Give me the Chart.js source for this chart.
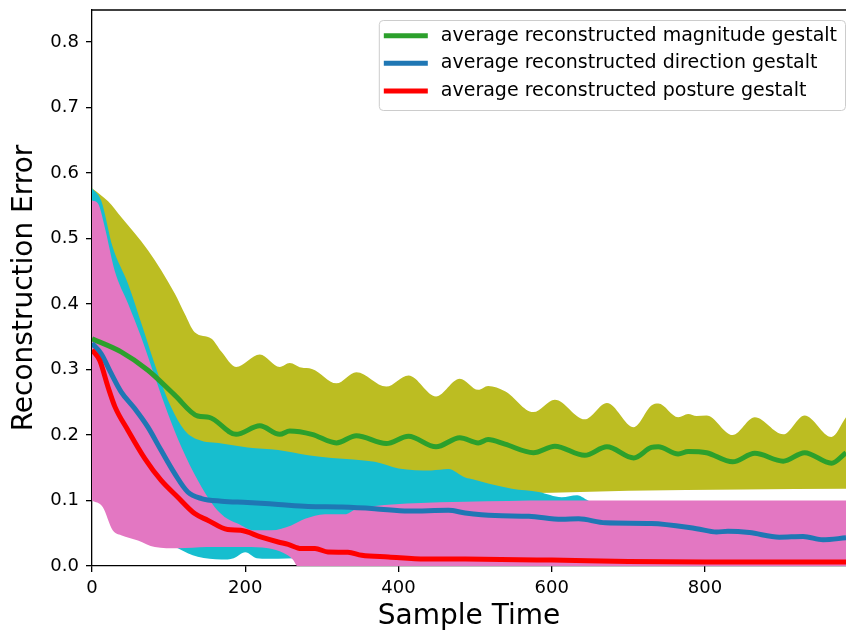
<!DOCTYPE html>
<html>
<head>
<meta charset="utf-8">
<script src="https://cdn.jsdelivr.net/npm/chart.js@4.4.1/dist/chart.umd.min.js"></script>
<style>
  html, body { margin: 0; padding: 0; background: #fff; }
  #chart { display: block; }
</style>
</head>
<body>
<canvas id="chart" width="846" height="634"></canvas>
<script>
// sample times and reconstruction errors, one x/y pair of arrays per curve
const magUpperX = [0, 21, 38, 73, 108, 121, 134, 156, 169, 188, 219, 245, 258, 273, 287, 319, 345, 384, 413, 449, 480, 504, 517, 539, 576, 604, 643, 672, 707, 730, 739, 765, 778, 789, 802, 836, 865, 902, 930, 965, 984];
const magUpperY = [0.577, 0.557, 0.533, 0.482, 0.416, 0.385, 0.357, 0.347, 0.327, 0.304, 0.323, 0.304, 0.310, 0.303, 0.301, 0.279, 0.296, 0.274, 0.291, 0.259, 0.286, 0.269, 0.275, 0.267, 0.235, 0.254, 0.224, 0.249, 0.212, 0.245, 0.248, 0.227, 0.232, 0.229, 0.230, 0.200, 0.227, 0.201, 0.230, 0.197, 0.227];
const magMeanX = [0, 38, 73, 108, 138, 153, 188, 219, 245, 258, 287, 319, 345, 384, 413, 449, 480, 504, 517, 539, 576, 604, 643, 672, 707, 730, 739, 765, 778, 802, 836, 865, 902, 930, 965, 984];
const magMeanY = [0.347, 0.327, 0.299, 0.261, 0.229, 0.227, 0.201, 0.214, 0.201, 0.206, 0.201, 0.188, 0.199, 0.187, 0.198, 0.182, 0.196, 0.188, 0.193, 0.186, 0.173, 0.183, 0.169, 0.182, 0.165, 0.181, 0.182, 0.171, 0.175, 0.173, 0.159, 0.172, 0.160, 0.173, 0.157, 0.173];
const magLowerX = [0, 200, 400, 500, 600, 700, 850, 984];
const magLowerY = [0.12, 0.11, 0.11, 0.111, 0.112, 0.115, 0.117, 0.118];

const dirUpperX = [0, 12, 27, 47, 66, 86, 103, 121, 138, 169, 203, 243, 282, 313, 369, 400, 443, 465, 487, 498, 517, 548, 583, 613, 633, 650, 700, 800, 984];
const dirUpperY = [0.577, 0.558, 0.487, 0.431, 0.365, 0.294, 0.243, 0.207, 0.193, 0.187, 0.181, 0.177, 0.169, 0.165, 0.159, 0.149, 0.146, 0.148, 0.135, 0.132, 0.126, 0.118, 0.113, 0.105, 0.108, 0.099, 0.095, 0.093, 0.090];
const dirMeanX = [0, 12, 25, 38, 56, 73, 90, 108, 125, 143, 169, 203, 243, 282, 326, 369, 413, 465, 487, 526, 570, 613, 635, 670, 730, 789, 815, 830, 858, 897, 928, 954, 984];
const dirMeanY = [0.340, 0.324, 0.294, 0.266, 0.240, 0.212, 0.177, 0.141, 0.113, 0.103, 0.099, 0.097, 0.094, 0.091, 0.090, 0.0876, 0.084, 0.085, 0.081, 0.077, 0.076, 0.0713, 0.072, 0.066, 0.065, 0.057, 0.052, 0.053, 0.051, 0.044, 0.045, 0.040, 0.043];
const dirLowerX = [0, 40, 80, 112, 138, 169, 185, 200, 215, 243, 265, 280, 320, 500, 984];
const dirLowerY = [0.11, 0.08, 0.05, 0.027, 0.014, 0.010, 0.012, 0.021, 0.012, 0.011, 0.012, 0.0, -0.02, -0.03, -0.03];

const posUpperX = [0, 8, 16.5, 29.6, 47, 64, 82, 99, 116.5, 138, 160, 173, 190, 212, 234, 260, 278, 304, 330, 343, 382, 421, 487, 600, 984];
const posUpperY = [0.558, 0.553, 0.518, 0.451, 0.401, 0.350, 0.289, 0.233, 0.182, 0.131, 0.090, 0.075, 0.065, 0.0545, 0.0545, 0.062, 0.072, 0.079, 0.079, 0.086, 0.093, 0.096, 0.098, 0.1, 0.1];
const posMeanX = [0, 10, 21, 30, 47, 69, 90, 112, 134, 151, 177, 194, 221, 243, 256, 273, 291, 308, 334, 352, 387, 435, 487, 600, 700, 800, 984];
const posMeanY = [0.330, 0.314, 0.273, 0.243, 0.207, 0.164, 0.131, 0.105, 0.080, 0.070, 0.0556, 0.0545, 0.044, 0.0367, 0.033, 0.0266, 0.0266, 0.0214, 0.021, 0.0163, 0.0138, 0.0107, 0.0105, 0.009, 0.007, 0.006, 0.006];
const posLowerX = [0, 14, 27, 38, 60, 82, 112, 150, 200, 230, 250, 262, 270, 300, 984];
const posLowerY = [0.1, 0.09, 0.0545, 0.047, 0.039, 0.029, 0.027, 0.029, 0.029, 0.027, 0.02, 0.01, -0.005, -0.03, -0.05];

const xTicks = [0, 200, 400, 600, 800];
const yTicks = [0, 0.1, 0.2, 0.3, 0.4, 0.5, 0.6, 0.7, 0.8];
const legendLabels = [
  "average reconstructed magnitude gestalt",
  "average reconstructed direction gestalt",
  "average reconstructed posture gestalt",
];

const FONT = "'DejaVu Sans', sans-serif";

const pts = (xs, ys) => xs.map((x, i) => ({x, y: ys[i]}));

const meanLine = (label, xs, ys, color) => ({
  label,
  data: pts(xs, ys),
  borderColor: color,
  backgroundColor: color,
  borderWidth: 5,
  pointRadius: 0,
  fill: false,
  cubicInterpolationMode: "monotone",
});

const band = (xs, ys, color, fill) => ({
  data: pts(xs, ys),
  borderWidth: 0,
  borderColor: "transparent",
  backgroundColor: color,
  pointRadius: 0,
  fill,
  cubicInterpolationMode: "monotone",
});

// index 0 is drawn last, so the mean lines sit on top of the bands
const datasets = [
  meanLine(legendLabels[2], posMeanX, posMeanY, "#ff0000"),
  meanLine(legendLabels[1], dirMeanX, dirMeanY, "#1f77b4"),
  meanLine(legendLabels[0], magMeanX, magMeanY, "#2ca02c"),
  band(posUpperX, posUpperY, "#e377c2", "+1"),
  band(posLowerX, posLowerY, "#e377c2", false),
  band(dirUpperX, dirUpperY, "#17becf", "+1"),
  band(dirLowerX, dirLowerY, "#17becf", false),
  band(magUpperX, magUpperY, "#bcbd22", "+1"),
  band(magLowerX, magLowerY, "#bcbd22", false),
];

// top spine of the axes frame
const frameTop = {
  id: "frameTop",
  afterDraw(chart) {
    const {ctx, chartArea} = chart;
    ctx.save();
    ctx.strokeStyle = "#000";
    ctx.lineWidth = 1.3;
    ctx.beginPath();
    ctx.moveTo(chartArea.left, chartArea.top);
    ctx.lineTo(chartArea.right, chartArea.top);
    ctx.stroke();
    ctx.restore();
  },
};

// legend box in the upper right corner
const legendBox = {
  id: "legendBox",
  afterDraw(chart) {
    const {ctx, chartArea} = chart;
    const order = [2, 1, 0];
    ctx.save();
    ctx.font = "19px " + FONT;
    const textW = Math.max(...order.map(i => ctx.measureText(chart.data.datasets[i].label).width));
    const right = chartArea.right - 1;
    const top = chartArea.top + 10;
    const w = 5 + 44 + 13 + textW + 8;
    const h = 90;
    const left = right - w;

    ctx.beginPath();
    ctx.roundRect(left + 0.5, top + 0.5, w, h, 4);
    ctx.fillStyle = "rgba(255,255,255,0.8)";
    ctx.fill();
    ctx.strokeStyle = "#cccccc";
    ctx.lineWidth = 1;
    ctx.stroke();

    order.forEach((di, row) => {
      const ds = chart.data.datasets[di];
      const y = top + 15.7 + row * 27.6;
      ctx.strokeStyle = ds.borderColor;
      ctx.lineWidth = 5;
      ctx.beginPath();
      ctx.moveTo(left + 5, y);
      ctx.lineTo(left + 49, y);
      ctx.stroke();
      ctx.fillStyle = "#000";
      ctx.textBaseline = "middle";
      ctx.fillText(ds.label, left + 62, y);
    });
    ctx.restore();
  },
};

Chart.defaults.color = "#000";
Chart.defaults.font.family = FONT;

new Chart(document.getElementById("chart"), {
  type: "line",
  data: {datasets},
  options: {
    responsive: false,
    animation: false,
    layout: {padding: {top: 10, right: 0, left: 0, bottom: 0}},
    plugins: {
      legend: {display: false},
      tooltip: {enabled: false},
      filler: {propagate: false},
    },
    scales: {
      x: {
        type: "linear",
        min: 0,
        max: 984,
        afterBuildTicks: s => { s.ticks = xTicks.map(v => ({value: v})); },
        afterFit: s => { s.height = 68; s.paddingLeft = 0; s.paddingRight = 0; },
        ticks: {
          font: {size: 18},
          color: "#000",
          padding: 6,
          maxRotation: 0,
          autoSkip: false,
          callback: v => String(v),
        },
        grid: {drawOnChartArea: false, color: "#000", lineWidth: 1.3, tickLength: 6},
        border: {color: "#000", width: 1.3},
        title: {
          display: true,
          text: "Sample Time",
          font: {size: 28},
          color: "#000",
          padding: {top: 0, bottom: 0},
        },
      },
      y: {
        type: "linear",
        min: 0,
        max: 0.849,
        afterBuildTicks: s => { s.ticks = yTicks.map(v => ({value: v})); },
        afterFit: s => { s.width = 92; s.paddingTop = 0; s.paddingBottom = 0; },
        ticks: {
          font: {size: 18},
          color: "#000",
          padding: 7,
          autoSkip: false,
          callback: v => v.toFixed(1),
        },
        grid: {drawOnChartArea: false, color: "#000", lineWidth: 1.3, tickLength: 6},
        border: {color: "#000", width: 1.3},
        title: {
          display: true,
          text: "Reconstruction Error",
          font: {size: 28},
          color: "#000",
          padding: {top: 8, bottom: 0},
        },
      },
    },
  },
  plugins: [frameTop, legendBox],
});
</script>
</body>
</html>
